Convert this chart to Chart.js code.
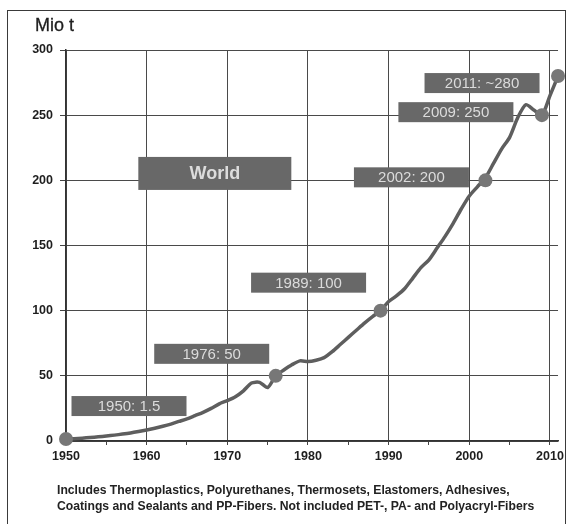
<!DOCTYPE html>
<html>
<head>
<meta charset="utf-8">
<script src="https://cdn.jsdelivr.net/npm/chart.js@4"></script>
<style>
  html, body { margin: 0; padding: 0; background: #fff; }
  #wrap { position: relative; width: 568px; height: 524px; overflow: hidden;
          font-family: "Liberation Sans", Arial, sans-serif; }
  #frame { position: absolute; left: 7px; top: 10px; width: 559px; height: 600px;
           border: 1.5px solid #3a3a3a; box-sizing: border-box; }
  #unit { position: absolute; left: 35px; top: 15px; font-size: 18px; color: #1e1e1e;
          -webkit-text-stroke: 0.3px #1e1e1e; }
  #note { position: absolute; left: 57px; top: 482px; font-size: 12.2px; font-weight: bold;
          color: #222; line-height: 16px; white-space: nowrap; }
  canvas { position: absolute; left: 0; top: 0; }
</style>
</head>
<body>
<div id="wrap">
  <div id="frame"></div>
  <canvas id="chart" width="568" height="524"></canvas>
  <div id="unit">Mio t</div>
  <div id="note">Includes Thermoplastics, Polyurethanes, Thermosets, Elastomers, Adhesives,<br>Coatings and Sealants and PP-Fibers. Not included PET-, PA- and Polyacryl-Fibers</div>
</div>
<script>
// World plastics production, million tonnes per year
const years = [
  1950, 1951, 1952, 1953, 1954, 1955, 1956, 1957, 1958, 1959,
  1960, 1961, 1962, 1963, 1964, 1965, 1966, 1967, 1968, 1969,
  1970, 1971, 1972, 1973, 1974, 1975, 1976, 1977, 1978, 1979,
  1980, 1981, 1982, 1983, 1984, 1985, 1986, 1987, 1988, 1989,
  1990, 1991, 1992, 1993, 1994, 1995, 1996, 1997, 1998, 1999,
  2000, 2001, 2002, 2003, 2004, 2005, 2006, 2007, 2008, 2009,
  2010, 2011
];
const production = [
  1.5, 1.8, 2.2, 2.7, 3.2, 3.8, 4.5, 5.3, 6.2, 7.3,
  8.5, 9.8, 11.3, 13.0, 15.0, 17.0, 19.5, 22.0, 25.0, 28.5,
  31.0, 34.0, 38.5, 44.5, 45.0, 41.0, 50.0, 54.5, 58.5, 61.5,
  61.0, 62.0, 64.0, 68.5, 74.0, 79.5, 85.0, 90.5, 95.5, 100.0,
  107.0, 111.5, 117.0, 125.0, 133.0, 139.0, 148.0, 157.0, 167.0, 178.0,
  188.0, 195.0, 202.0, 213.0, 224.0, 233.0, 248.0, 258.0, 254.0, 250.0,
  265.0, 280.0
];

// Highlighted milestones
const milestoneYears  = [1950, 1976, 1989, 2002, 2009, 2011];
const milestoneValues = [1.5, 50, 100, 200, 250, 280];
const milestonePrefix = ['', '', '', '', '', '~'];

const regionLabel = 'World';

// Axis ticks
const xTickYears = [1950, 1960, 1970, 1980, 1990, 2000, 2010];
const yTickValues = [0, 50, 100, 150, 200, 250, 300];

// Label box placement relative to its milestone point (pixels)
const boxOffsets = [
  [63, -33], [-64, -22], [-72, -28], [-74, -3], [-86, -3], [-76, 7]
];
const boxStyle = { w: 115, h: 20, fill: '#686868', text: '#dcdcdc',
                   font: '15px "Liberation Sans", Arial, sans-serif' };
const worldBox = { x: 1968.45, y: 205.3, w: 153, h: 33,
                   font: 'bold 18px "Liberation Sans", Arial, sans-serif' };

const FONT = '"Liberation Sans", Arial, sans-serif';

const labelBoxes = {
  id: 'labelBoxes',
  afterDatasetsDraw(chart) {
    const ctx = chart.ctx;
    const xs = chart.scales.x, ys = chart.scales.y;
    ctx.save();
    ctx.textAlign = 'center';
    ctx.textBaseline = 'middle';

    // region caption
    const wx = xs.getPixelForValue(worldBox.x), wy = ys.getPixelForValue(worldBox.y);
    ctx.fillStyle = boxStyle.fill;
    ctx.fillRect(wx - worldBox.w / 2, wy - worldBox.h / 2, worldBox.w, worldBox.h);
    ctx.fillStyle = boxStyle.text;
    ctx.font = worldBox.font;
    ctx.fillText(regionLabel, wx, wy + 1);

    // milestone captions
    ctx.font = boxStyle.font;
    milestoneYears.forEach((yr, i) => {
      const px = xs.getPixelForValue(yr) + boxOffsets[i][0];
      const py = ys.getPixelForValue(milestoneValues[i]) + boxOffsets[i][1];
      ctx.fillStyle = boxStyle.fill;
      ctx.fillRect(px - boxStyle.w / 2, py - boxStyle.h / 2, boxStyle.w, boxStyle.h);
      ctx.fillStyle = boxStyle.text;
      ctx.fillText(yr + ': ' + milestonePrefix[i] + milestoneValues[i], px, py + 1);
    });
    ctx.restore();
  }
};

new Chart(document.getElementById('chart'), {
  type: 'line',
  data: {
    datasets: [
      {
        label: 'Milestones',
        data: milestoneYears.map((x, i) => ({ x, y: milestoneValues[i] })),
        showLine: false,
        pointRadius: 7,
        pointBackgroundColor: '#777',
        pointBorderWidth: 0,
        clip: false,
        order: 0
      },
      {
        label: 'Production',
        data: years.map((x, i) => ({ x, y: production[i] })),
        borderColor: '#5e5e5e',
        borderWidth: 3.5,
        pointRadius: 0,
        tension: 0.25,
        fill: false,
        clip: false,
        order: 1
      }
    ]
  },
  options: {
    responsive: false,
    animation: false,
    events: [],
    layout: { padding: { top: 50, right: 8, bottom: 0, left: 0 } },
    plugins: { legend: { display: false }, tooltip: { enabled: false }, title: { display: false } },
    scales: {
      x: {
        type: 'linear',
        min: 1950,
        max: 2011,
        afterFit: s => { s.height = 83; },
        afterBuildTicks: s => {
          // labelled decades plus unlabelled half-decade marks
          const t = [];
          xTickYears.forEach(v => { t.push({ value: v }); if (v + 5 <= 2011) t.push({ value: v + 5 }); });
          s.ticks = t.sort((a, b) => a.value - b.value);
        },
        ticks: {
          autoSkip: false,
          maxRotation: 0,
          padding: 4,
          color: '#1e1e1e',
          font: { family: FONT, size: 12.5, weight: 'bold' },
          callback: v => (xTickYears.includes(v) ? String(v) : '')
        },
        grid: {
          color: c => (c.tick && !xTickYears.includes(c.tick.value) ? 'rgba(0,0,0,0)' : '#4a4a4a'),
          tickColor: '#444',
          tickLength: 4,
          lineWidth: 1
        },
        border: { color: '#333', width: 1.5 }
      },
      y: {
        min: 0,
        max: 300,
        afterFit: s => { s.width = 66; },
        afterBuildTicks: s => { s.ticks = yTickValues.map(v => ({ value: v })); },
        ticks: {
          padding: 7,
          color: '#1e1e1e',
          font: { family: FONT, size: 12.5, weight: 'bold' }
        },
        grid: { color: '#4a4a4a', tickColor: '#444', tickLength: 6, lineWidth: 1 },
        border: { color: '#333', width: 1.5 }
      }
    }
  },
  plugins: [labelBoxes]
});
</script>
</body>
</html>
